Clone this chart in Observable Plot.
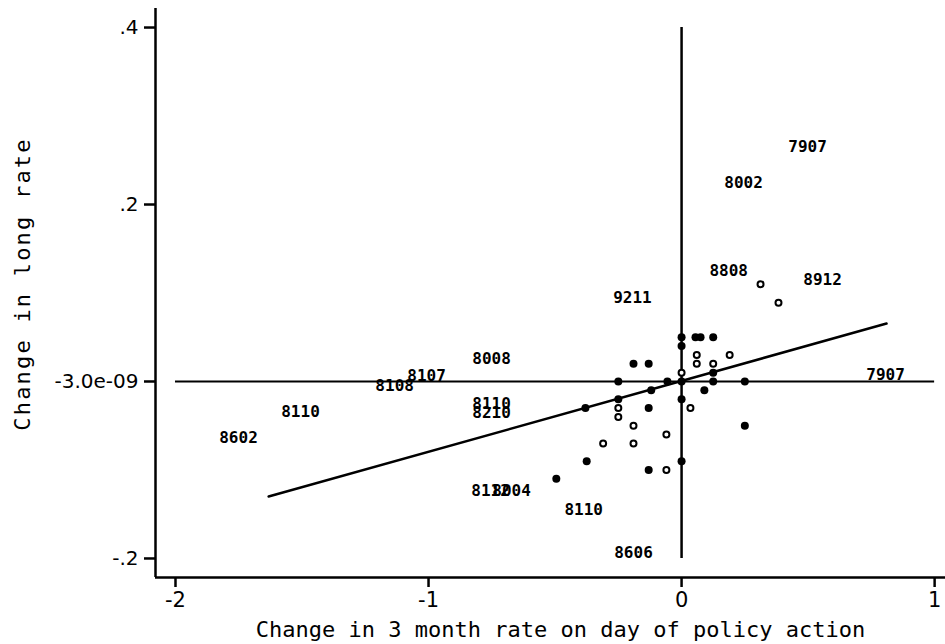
<!DOCTYPE html>
<html>
<head>
<meta charset="utf-8">
<script src="https://cdn.jsdelivr.net/npm/d3@7"></script>
<script src="https://cdn.jsdelivr.net/npm/@observablehq/plot@0.6"></script>
<style>
  html, body { margin: 0; padding: 0; background: #fff; }
  #chart { width: 945px; height: 644px; }
</style>
</head>
<body>
<div id="chart"></div>
<script>
// ---- data ----
const filledX = [0, 0, 0.055, 0.075, 0.125, 0.125, 0.125, 0.25, 0.09, 0, -0.19, -0.13, -0.25, -0.056, -0.12, -0.25, -0.38, -0.13, -0.13, 0, 0.25, 0, -0.495, -0.375];
const filledY = [0.05, 0.04, 0.05, 0.05, 0.05, 0.01, 0, 0, -0.01, 0, 0.02, 0.02, 0, 0, -0.01, -0.02, -0.03, -0.03, -0.10, -0.09, -0.05, -0.02, -0.11, -0.09];
const openX = [0.06, 0.19, 0.06, 0.125, 0, -0.25, -0.25, -0.19, -0.06, -0.31, -0.19, -0.06, 0.035, 0.312, 0.383];
const openY = [0.03, 0.03, 0.02, 0.02, 0.01, -0.03, -0.04, -0.05, -0.06, -0.07, -0.07, -0.10, -0.03, 0.11, 0.089];
const labelText = ["7907", "8002", "8808", "8912", "9211", "8008", "8107", "8108", "7907", "8110", "8602", "8110", "8210", "8112", "8004", "8110", "8606"];
const labelX = [0.498, 0.245, 0.186, 0.557, -0.194, -0.751, -1.008, -1.134, 0.806, -1.506, -1.751, -0.751, -0.751, -0.755, -0.672, -0.387, -0.19];
const labelY = [0.2655, 0.225, 0.125, 0.115, 0.095, 0.025, 0.006, -0.0045, 0.007, -0.034, -0.064, -0.025, -0.035, -0.124, -0.124, -0.145, -0.194];
const fitX = [-1.632, 0.81];
const fitY = [-0.130, 0.0655];
const xTicks = [-2, -1, 0, 1];
const xTickLabels = ["-2", "-1", "0", "1"];
const yTicks = [-0.2, -3.0e-9, 0.2, 0.4];
const yTickLabels = ["-.2", "-3.0e-09", ".2", ".4"];
const xTitle = "Change in 3 month rate on day of policy action";
const yTitle = "Change in long rate";
const xDomain = [-2.079, 1.043];
const yDomain = [-0.2215, 0.4215];

// ---- layout ----
const W = 945, H = 644, mL = 155, mR = 0, mT = 8, mB = 67;
const yTickLen = 11, xTickLen = 10;
// tick lengths converted to data units so the tick rules sit outside the frame
const yTickLenData = yTickLen * (xDomain[1] - xDomain[0]) / (W - mL - mR);
const xTickLenData = xTickLen * (yDomain[1] - yDomain[0]) / (H - mT - mB);

// ---- build tables ----
const filled = filledX.map((x, i) => ({x, y: filledY[i]}));
const open = openX.map((x, i) => ({x, y: openY[i]}));
const labels = labelText.map((t, i) => ({t, x: labelX[i], y: labelY[i]}));
const fit = fitX.map((x, i) => ({x, y: fitY[i]}));

const chart = Plot.plot({
  width: W,
  height: H,
  marginLeft: mL,
  marginRight: mR,
  marginTop: mT,
  marginBottom: mB,
  style: {fontFamily: "DejaVu Sans", background: "#fff", color: "#000"},
  x: {domain: xDomain},
  y: {domain: yDomain},
  marks: [
    Plot.axisX({ticks: xTicks, tickFormat: d => xTickLabels[xTicks.indexOf(d)], tickSize: xTickLen, tickPadding: 5, fontSize: 21, label: null, stroke: "#000", strokeWidth: 2}),
    Plot.axisY({ticks: yTicks, tickFormat: d => yTickLabels[yTicks.indexOf(d)], tickSize: yTickLen, tickPadding: 6, fontSize: 20, label: null, stroke: "#000", strokeWidth: 2}),
    Plot.ruleY(yTicks, {y: d => d, x1: xDomain[0], x2: xDomain[0] - yTickLenData, stroke: "#000", strokeWidth: 2}),
    Plot.ruleX(xTicks, {x: d => d, y1: yDomain[0], y2: yDomain[0] - xTickLenData, stroke: "#000", strokeWidth: 2}),
    Plot.ruleX([xDomain[0]], {stroke: "#000", strokeWidth: 2.5}),
    Plot.ruleY([yDomain[0]], {stroke: "#000", strokeWidth: 2.5}),
    Plot.ruleY([0], {x1: xTicks[0], x2: xTicks[3], stroke: "#000", strokeWidth: 2}),
    Plot.ruleX([0], {y1: yTicks[0], y2: yTicks[3], stroke: "#000", strokeWidth: 2.5}),
    Plot.line(fit, {x: "x", y: "y", stroke: "#000", strokeWidth: 2.5}),
    Plot.dot(filled, {x: "x", y: "y", r: 4, fill: "#000", stroke: "none"}),
    Plot.dot(open, {x: "x", y: "y", r: 3, fill: "#fff", stroke: "#000", strokeWidth: 2}),
    Plot.text(labels, {x: "x", y: "y", text: "t", fontFamily: "DejaVu Sans Mono", fontWeight: "bold", fontSize: 16, fill: "#000"}),
    Plot.text([xTitle], {frameAnchor: "bottom", textAnchor: "middle", lineAnchor: "middle", dy: 52, dx: 10, fontFamily: "DejaVu Sans Mono", fontSize: 22, fill: "#000"}),
    Plot.text([yTitle], {frameAnchor: "left", textAnchor: "middle", lineAnchor: "middle", dx: -133, dy: -9, rotate: -90, fontFamily: "DejaVu Sans Mono", fontSize: 22, fill: "#000"})
  ]
});
// widen the y-axis title's letter spacing to match the reference
d3.select(chart).selectAll("text").filter(function() { return this.textContent === yTitle; }).style("letter-spacing", "2.2px");
document.getElementById("chart").appendChild(chart);
</script>
</body>
</html>
